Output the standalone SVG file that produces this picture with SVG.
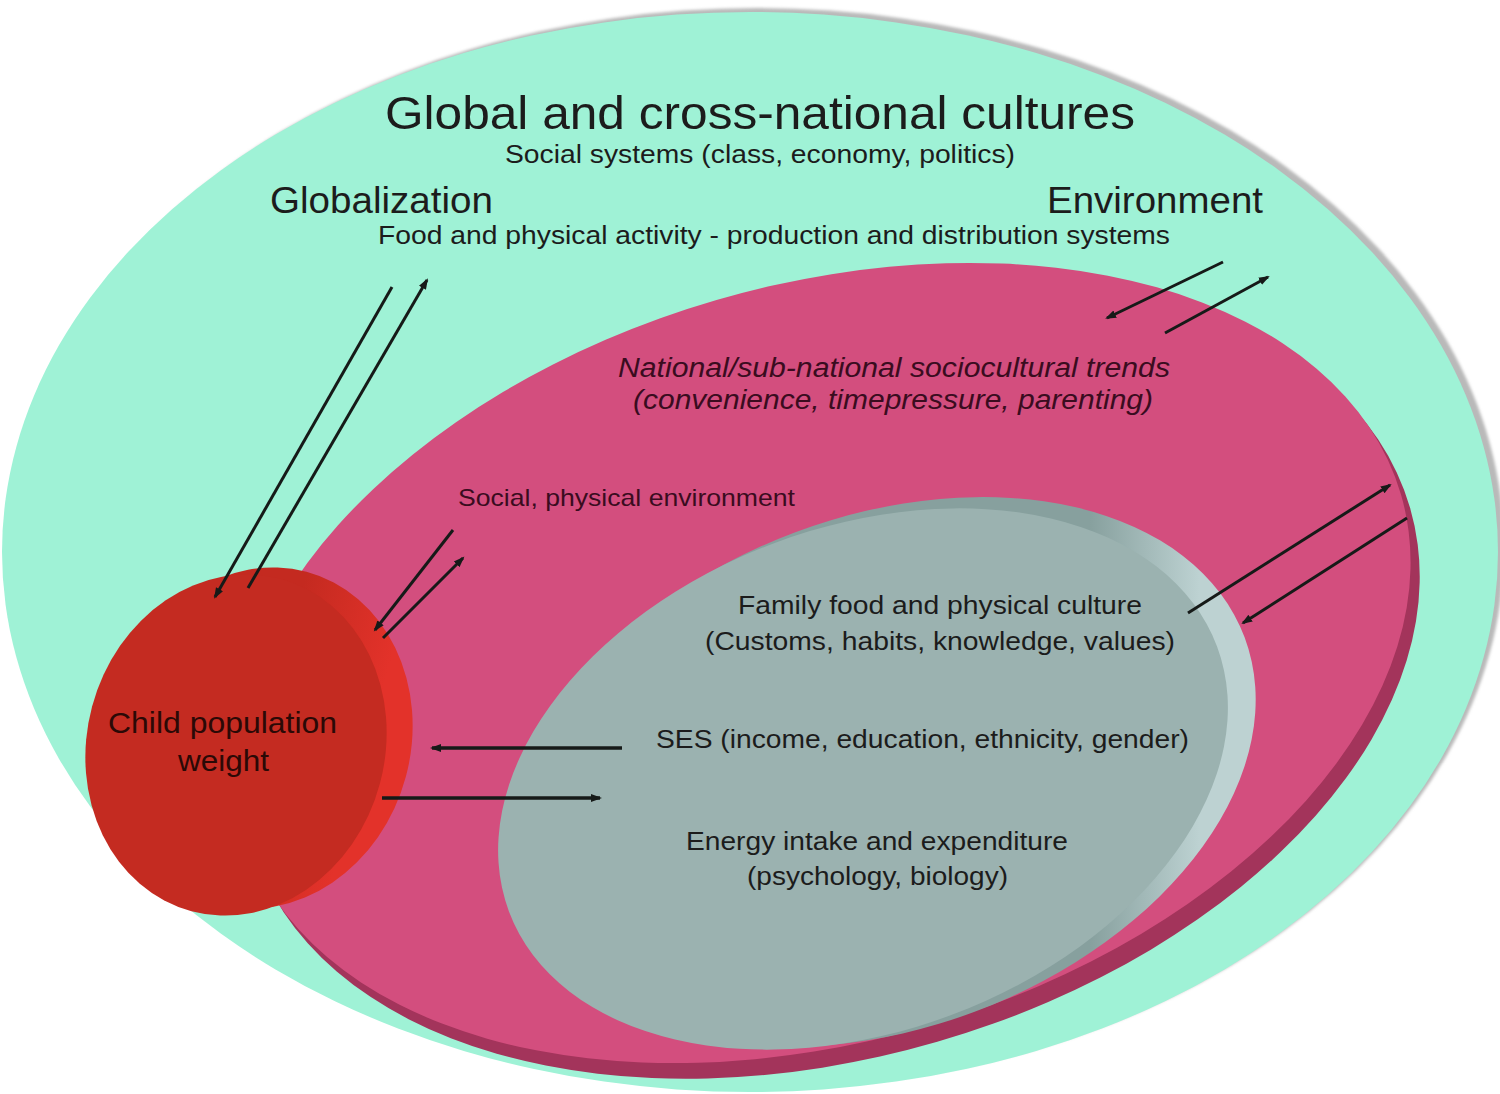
<svg xmlns="http://www.w3.org/2000/svg" width="1500" height="1094" viewBox="0 0 1500 1094">
<defs>
<style>
text { font-family: "Liberation Sans", Arial, sans-serif; }
.dk { fill: #1c1c1c; }
.pk { fill: #3a0c1f; }
.rd { fill: #2b0906; }
.it { font-style: italic; }
#connectors line { stroke: #161a18; stroke-width: 3; marker-end: url(#ah); }
#connectors line.h { stroke-width: 3.5; }
</style>
<marker id="ah" markerUnits="userSpaceOnUse" markerWidth="12" markerHeight="10" refX="9" refY="5" orient="auto">
<path d="M0,1 L11,5 L0,9 z" fill="#161a18"/>
</marker>
<filter id="blur" x="-5%" y="-5%" width="110%" height="110%"><feGaussianBlur stdDeviation="1.5"/></filter>
<linearGradient id="grayBack" gradientUnits="userSpaceOnUse" x1="1090" y1="0" x2="1200" y2="0" gradientTransform="rotate(20.5 887 771)">
<stop offset="0" stop-color="#87a09e"/><stop offset="1" stop-color="#bdd2d2"/>
</linearGradient>
<linearGradient id="redBack" x1="0" y1="0" x2="1" y2="0">
<stop offset="0.5" stop-color="#c42a20"/><stop offset="0.85" stop-color="#e3322a"/>
</linearGradient>
</defs>
<rect x="0" y="0" width="1500" height="1094" fill="#ffffff"/>

<g id="global">
<ellipse cx="757" cy="548" rx="747" ry="540" fill="#b9b9b9" filter="url(#blur)"/>
<ellipse cx="750" cy="552" rx="748" ry="540" fill="#9ff2d6"/>
<text class="dk" x="385" y="129" font-size="47" textLength="750" lengthAdjust="spacingAndGlyphs">Global and cross-national cultures</text>
<text class="dk" x="505" y="163" font-size="25" textLength="510" lengthAdjust="spacingAndGlyphs">Social systems (class, economy, politics)</text>
<text class="dk" x="270" y="213" font-size="36" textLength="223" lengthAdjust="spacingAndGlyphs">Globalization</text>
<text class="dk" x="1047" y="213" font-size="36" textLength="216" lengthAdjust="spacingAndGlyphs">Environment</text>
<text class="dk" x="378" y="244" font-size="25" textLength="792" lengthAdjust="spacingAndGlyphs">Food and physical activity - production and distribution systems</text>
</g>

<g id="national">
<ellipse cx="831" cy="676" rx="603" ry="381" transform="rotate(-16.2 831 676)" fill="#a3345b"/>
<ellipse cx="822" cy="663" rx="603" ry="378" transform="rotate(-16.2 822 663)" fill="#d34e7e"/>
<text class="pk it" x="618" y="377" font-size="27" textLength="552" lengthAdjust="spacingAndGlyphs">National/sub-national sociocultural trends</text>
<text class="pk it" x="633" y="409" font-size="27" textLength="520" lengthAdjust="spacingAndGlyphs">(convenience, timepressure, parenting)</text>
<text class="pk" x="458" y="506" font-size="24" textLength="337" lengthAdjust="spacingAndGlyphs">Social, physical environment</text>
</g>

<g id="family">
<ellipse cx="885" cy="772" rx="384" ry="256" transform="rotate(-20.5 885 772)" fill="url(#grayBack)"/>
<ellipse cx="863" cy="779" rx="378" ry="252" transform="rotate(-20.5 863 779)" fill="#9bb2b0"/>
<text class="dk" x="738" y="614" font-size="25" textLength="404" lengthAdjust="spacingAndGlyphs">Family food and physical culture</text>
<text class="dk" x="705" y="650" font-size="25" textLength="470" lengthAdjust="spacingAndGlyphs">(Customs, habits, knowledge, values)</text>
<text class="dk" x="656" y="748" font-size="25" textLength="533" lengthAdjust="spacingAndGlyphs">SES (income, education, ethnicity, gender)</text>
<text class="dk" x="686" y="850" font-size="25" textLength="382" lengthAdjust="spacingAndGlyphs">Energy intake and expenditure</text>
<text class="dk" x="747" y="885" font-size="25" textLength="261" lengthAdjust="spacingAndGlyphs">(psychology, biology)</text>
</g>

<g id="child">
<ellipse cx="262" cy="738" rx="149" ry="172" transform="rotate(15 262 738)" fill="url(#redBack)"/>
<ellipse cx="236" cy="745" rx="149" ry="172" transform="rotate(15 236 745)" fill="#c42b21"/>
<text class="rd" x="108" y="733" font-size="29" textLength="229" lengthAdjust="spacingAndGlyphs">Child population</text>
<text class="rd" x="178" y="771" font-size="29" textLength="91" lengthAdjust="spacingAndGlyphs">weight</text>
</g>

<g id="connectors">
<line x1="392" y1="287" x2="215" y2="597"/>
<line x1="248" y1="588" x2="427" y2="280"/>
<line x1="453" y1="530" x2="375" y2="630"/>
<line x1="383" y1="638" x2="463" y2="558"/>
<line x1="1223" y1="262" x2="1107" y2="318"/>
<line x1="1165" y1="333" x2="1268" y2="277"/>
<line x1="1188" y1="613" x2="1390" y2="485"/>
<line x1="1407" y1="518" x2="1243" y2="623"/>
<line class="h" x1="622" y1="748" x2="432" y2="748"/>
<line class="h" x1="382" y1="798" x2="600" y2="798"/>
</g>
</svg>
